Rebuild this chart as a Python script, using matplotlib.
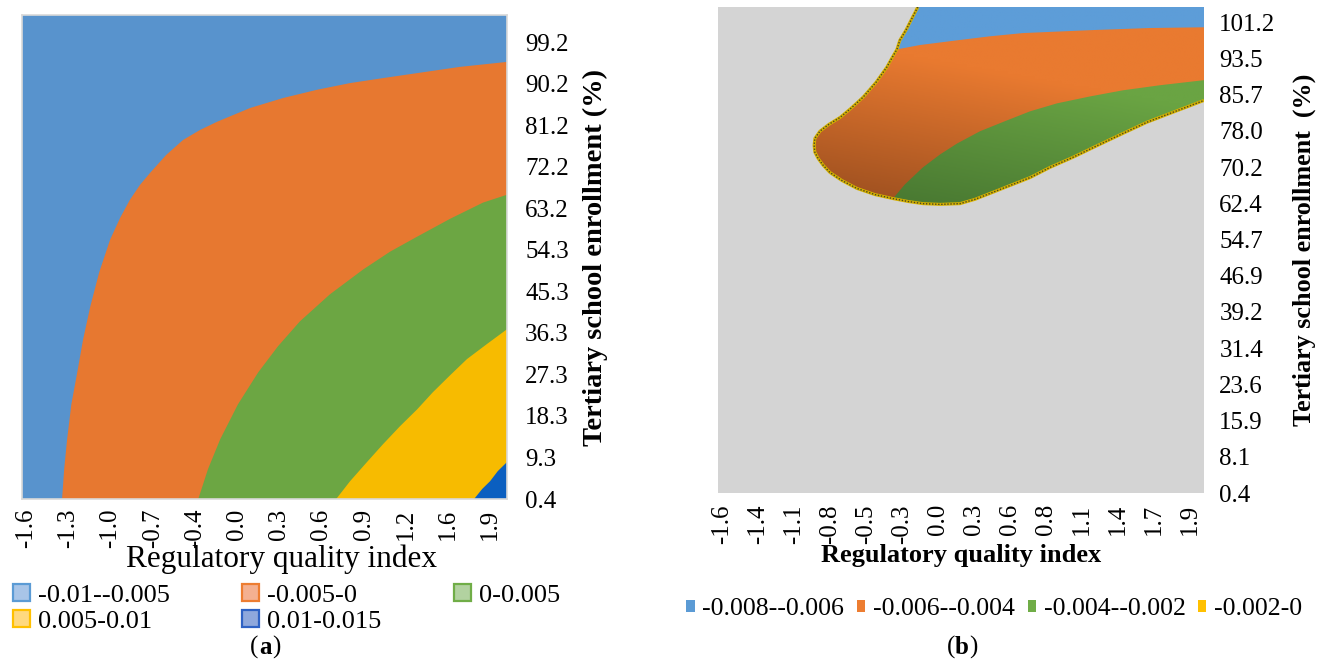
import numpy as np
import matplotlib.pyplot as plt
from matplotlib.patches import Patch, Polygon
from matplotlib.colors import LinearSegmentedColormap

# ---- panel (a): category axes, boundaries between bands (x idx, y idx)
a_xticks = ['-1.6', '-1.3', '-1.0', '-0.7', '-0.4', '0.0', '0.3', '0.6', '0.9', '1.2', '1.6', '1.9']
a_yticks = ['0.4', '9.3', '18.3', '27.3', '36.3', '45.3', '54.3', '63.2', '72.2', '81.2', '90.2', '99.2']
a_labels = ['-0.01--0.005', '-0.005-0', '0-0.005', '0.005-0.01', '0.01-0.015']
a_colors = ['#5893cd', '#e77830', '#6ca643', '#f7bb00', '#0b5fc0']
a_legend_fill = ['#a8c5e8', '#f4b090', '#b2d2a0', '#ffd97f', '#8fa8dc']
a_legend_edge = ['#5b9bd5', '#ed7d31', '#70ad47', '#ffc000', '#2f62c4']

b1_x = [0.85, 0.90, 0.97, 1.07, 1.21, 1.35, 1.52, 1.73, 1.99, 2.23, 2.46, 2.70, 2.94,
        3.32, 3.72, 4.12, 4.53, 5.31, 6.09, 6.90, 7.68, 8.46, 9.27, 10.28, 11.4]
b1_y = [0.0, 0.72, 1.44, 2.28, 3.05, 3.85, 4.64, 5.46, 6.25, 6.78, 7.21, 7.57, 7.86,
        8.29, 8.65, 8.89, 9.09, 9.42, 9.66, 9.86, 10.02, 10.14, 10.26, 10.41, 10.53]
b2_x = [4.08, 4.31, 4.60, 5.02, 5.50, 5.97, 6.49, 7.20, 7.99, 8.63, 9.27, 10.05, 10.83, 11.4]
b2_y = [0.0, 0.72, 1.44, 2.28, 3.05, 3.68, 4.28, 4.93, 5.53, 5.96, 6.32, 6.75, 7.14, 7.33]
b3_x = [7.35, 7.68, 8.08, 8.46, 8.86, 9.27, 9.64, 10.05, 10.45, 10.92, 11.4]
b3_y = [0.0, 0.43, 0.89, 1.32, 1.75, 2.16, 2.57, 2.98, 3.37, 3.73, 4.09]
b4_x = [10.62, 10.81, 11.0, 11.18, 11.4]
b4_y = [0.0, 0.24, 0.43, 0.67, 0.89]

# ---- panel (b)
b_xticks = ['-1.6', '-1.4', '-1.1', '-0.8', '-0.5', '-0.3', '0.0', '0.3', '0.6', '0.8', '1.1', '1.4', '1.7', '1.9']
b_yticks = ['0.4', '8.1', '15.9', '23.6', '31.4', '39.2', '46.9', '54.7', '62.4', '70.2', '78.0', '85.7', '93.5', '101.2']
b_labels = ['-0.008--0.006', '-0.006--0.004', '-0.004--0.002', '-0.002-0']
b_colors = ['#5b9bd5', '#ed7d31', '#70ad47', '#ffc000']

edge_top_x = [5.44, 5.28, 5.11, 4.94, 4.86]
edge_top_y = [13.42, 13.11, 12.78, 12.50, 12.25]
edge_left_x = [4.86, 4.72, 4.58, 4.28, 3.92, 3.58, 3.28, 2.97, 2.72, 2.58, 2.56, 2.58,
               2.67, 2.81, 3.00, 3.33, 3.75, 4.25, 4.75]
edge_left_y = [12.25, 12.01, 11.76, 11.34, 10.93, 10.62, 10.37, 10.18, 9.99, 9.79, 9.60, 9.41,
               9.24, 9.05, 8.85, 8.63, 8.41, 8.24, 8.13]
edge_bot_x = [4.75, 5.17, 5.58, 6.06, 6.61, 7.03, 7.44, 8.0, 8.56, 9.11, 9.75, 10.44,
              11.14, 11.81, 12.44, 13.39]
edge_bot_y = [8.13, 8.05, 7.99, 7.97, 7.99, 8.11, 8.27, 8.49, 8.71, 8.99, 9.27, 9.60,
              9.93, 10.24, 10.48, 10.84]
blue_orange_x = [4.86, 5.50, 6.53, 7.44, 8.36, 10.22, 11.89, 13.39]
blue_orange_y = [12.25, 12.37, 12.50, 12.61, 12.70, 12.78, 12.84, 12.86]
orange_green_x = [4.75, 5.08, 5.58, 6.06, 6.53, 7.17, 7.92, 8.56, 9.31, 10.22, 11.14, 12.17, 13.39]
orange_green_y = [8.13, 8.52, 8.99, 9.35, 9.65, 9.99, 10.29, 10.54, 10.76, 10.95, 11.12, 11.26, 11.40]

plt.rcParams['font.family'] = 'Liberation Serif'

fig = plt.figure(figsize=(13.38, 6.71), dpi=100)

# ================= (a)
ax = fig.add_axes([22 / 1338, 1 - 499 / 671, 485 / 1338, 484 / 671])
xr, yt = 11.4, 11.66
ax.set_xlim(-0.1, xr)
ax.set_ylim(0, yt)
ax.fill([-0.1, xr, xr, -0.1], [0, 0, yt, yt], color=a_colors[0], lw=0)
for bx, by, c in [(b1_x, b1_y, a_colors[1]), (b2_x, b2_y, a_colors[2]),
                  (b3_x, b3_y, a_colors[3]), (b4_x, b4_y, a_colors[4])]:
    ax.fill(bx + [xr], by + [0], color=c, lw=0)
for s in ax.spines.values():
    s.set_color('#d9d9d9')
    s.set_linewidth(1.2)
ax.set_xticks(range(len(a_xticks)))
ax.set_xticklabels(a_xticks, rotation=90, fontsize=18)
ax.set_yticks(range(len(a_yticks)))
ax.set_yticklabels(a_yticks, fontsize=18)
ax.yaxis.tick_right()
ax.tick_params(length=0)
ax.tick_params(axis='y', pad=13)
ax.tick_params(axis='x', pad=7)
ax.set_xlabel('Regulatory quality index', fontsize=22.5, labelpad=0)
ax.xaxis.set_label_coords(0.536, -0.095)
ax.yaxis.set_label_position('right')
ax.set_ylabel('Tertiary school enrollment (%)', fontsize=20.5, fontweight='bold', labelpad=10)

handles = [Patch(facecolor=f, edgecolor=e, linewidth=1.6) for f, e in zip(a_legend_fill, a_legend_edge)]
order = [0, 3, 1, 4, 2]
fig.legend([handles[i] for i in order], [a_labels[i] for i in order], ncol=3,
           loc='upper left', bbox_to_anchor=(2 / 1338, 1 - 573 / 671), frameon=False,
           fontsize=19, handlelength=0.65, handleheight=0.65, handletextpad=0.3,
           columnspacing=2.75, labelspacing=0.12, borderaxespad=0)

# ================= (b)
bx_ = fig.add_axes([718 / 1338, 1 - 493 / 671, 486 / 1338, 486 / 671])
xr, yt = 13.39, 13.42
bx_.set_facecolor('#d4d4d4')
for s in bx_.spines.values():
    s.set_visible(False)

shape_x = edge_top_x + edge_left_x[1:] + edge_bot_x[1:] + [xr]
shape_y = edge_top_y + edge_left_y[1:] + edge_bot_y[1:] + [yt]
orange_x = edge_left_x + edge_bot_x[1:] + blue_orange_x[::-1]
orange_y = edge_left_y + edge_bot_y[1:] + blue_orange_y[::-1]
green_x = edge_bot_x + orange_green_x[::-1]
green_y = edge_bot_y + orange_green_y[::-1]

# surface shading: darker towards lower left, like the Excel 3-D surface
gx, gy = np.meshgrid(np.linspace(-0.11, xr, 200), np.linspace(0, yt, 200))
shade = np.clip((gy - 8.0) / 4.5 + (gx - 3.0) / 25.0, 0, 1)
regions = [(shape_x, shape_y, ['#4f8cc8', '#5d9dd8']),
           (orange_x, orange_y, ['#9a4e1f', '#e97a30']),
           (green_x, green_y, ['#467530', '#6aa443'])]
for px, py, cols in regions:
    cmap = LinearSegmentedColormap.from_list('g', cols)
    im = bx_.imshow(shade, extent=(-0.11, xr, 0, yt), origin='lower', cmap=cmap,
                    aspect='auto', interpolation='bilinear', zorder=1)
    poly = Polygon(np.column_stack([px, py]), closed=True, transform=bx_.transData)
    im.set_clip_path(poly)

edge_x = edge_top_x + edge_left_x[1:] + edge_bot_x[1:]
edge_y = edge_top_y + edge_left_y[1:] + edge_bot_y[1:]
bx_.plot(edge_x, edge_y, color='#d4b000', lw=2.2, zorder=3, solid_capstyle='butt')
bx_.plot(edge_x, edge_y, color='#4a4620', lw=1.0, ls=(0, (1, 1.2)), zorder=4)
bx_.set_xlim(-0.11, xr)
bx_.set_ylim(0, yt)

bx_.set_xticks(range(len(b_xticks)))
bx_.set_xticklabels(b_xticks, rotation=90, fontsize=18)
bx_.set_yticks(range(len(b_yticks)))
bx_.set_yticklabels(b_yticks, fontsize=18)
bx_.yaxis.tick_right()
bx_.tick_params(length=0)
bx_.tick_params(axis='y', pad=11)
bx_.tick_params(axis='x', pad=8)
bx_.set_xlabel('Regulatory quality index', fontsize=19, fontweight='bold', labelpad=0)
bx_.yaxis.set_label_position('right')
bx_.set_ylabel('Tertiary school enrollment  (%)', fontsize=18.8, fontweight='bold', labelpad=12)

hb = [Patch(facecolor=c, edgecolor='none') for c in b_colors]
fig.legend(hb, b_labels, ncol=4, loc='upper left', bbox_to_anchor=(676 / 1338, 1 - 588 / 671),
           frameon=False, fontsize=18.5, handlelength=0.32, handleheight=0.32,
           handletextpad=0.3, columnspacing=0.5, borderaxespad=0)

# captions
for cx, letter in [(265, 'a'), (962, 'b')]:
    fy = 1 - 647 / 671
    fig.text((cx - 7) / 1338, fy, '(', ha='right', va='center', fontsize=18)
    fig.text(cx / 1338, fy, letter, ha='center', va='center', fontsize=18, fontweight='bold')
    fig.text((cx + 7) / 1338, fy, ')', ha='left', va='center', fontsize=18)

fig.savefig('out.png', dpi=100)
